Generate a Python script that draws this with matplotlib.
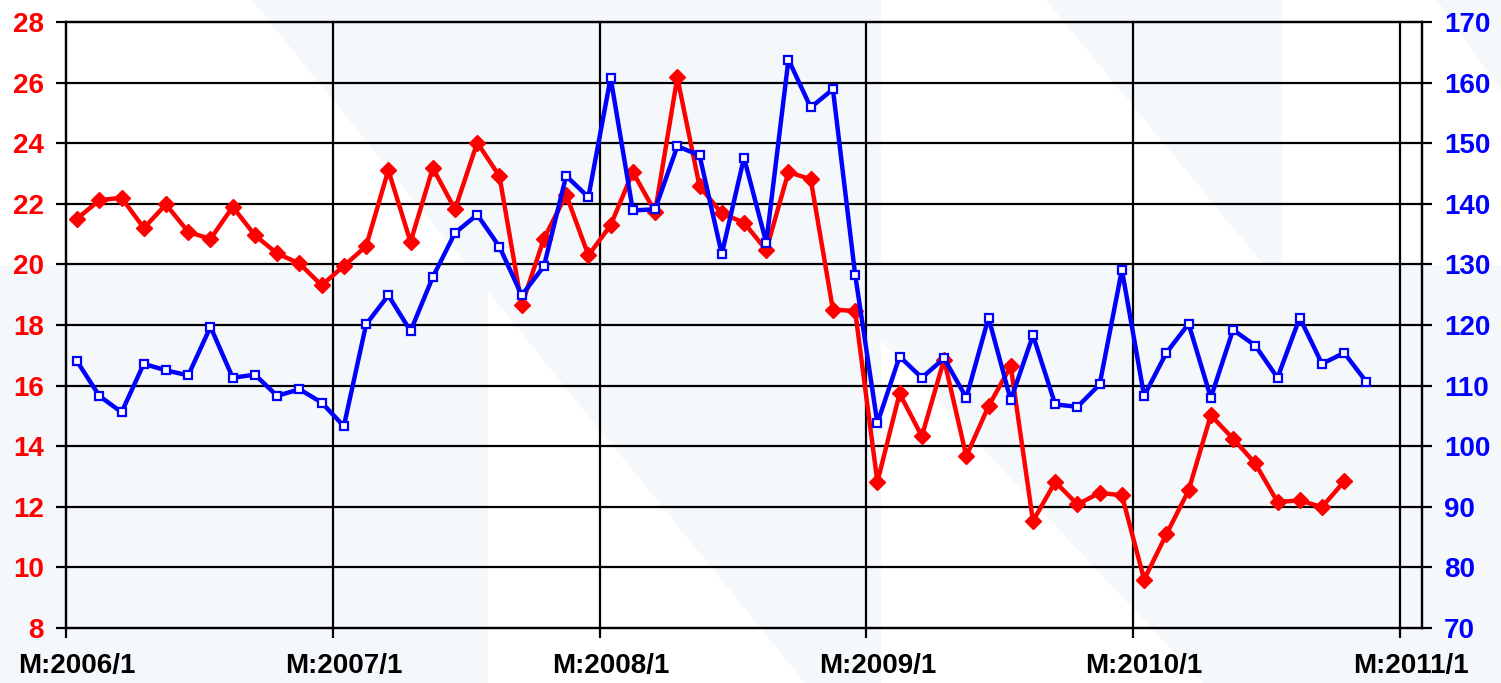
import numpy as np
import matplotlib
matplotlib.use("Agg")
import matplotlib.pyplot as plt

plt.rcParams['font.family'] = ['Liberation Sans', 'DejaVu Sans']
plt.rcParams['font.weight'] = 'bold'

# monthly series, starting M:2006/1
red_vals = [21.51, 22.12, 22.2, 21.2, 21.98, 21.07, 20.84, 21.9, 20.96, 20.36,
            20.03, 19.31, 19.95, 20.6, 23.11, 20.74, 23.18, 21.82, 24.02, 22.91,
            18.65, 20.85, 22.3, 20.3, 21.29, 23.05, 21.73, 26.17, 22.58, 21.68,
            21.38, 20.47, 23.05, 22.81, 18.51, 18.46, 12.82, 15.74, 14.33, 16.86,
            13.67, 15.32, 16.64, 11.53, 12.82, 12.08, 12.46, 12.38, 9.6, 11.09,
            12.54, 15.02, 14.25, 13.43, 12.16, 12.21, 11.99, 12.84]
blue_vals = [114.0, 108.3, 105.6, 113.6, 112.5, 111.7, 119.7, 111.3, 111.8, 108.3,
             109.4, 107.2, 103.3, 120.1, 124.9, 119.0, 127.9, 135.2, 138.2, 132.9,
             124.9, 129.7, 144.6, 141.1, 160.8, 138.9, 139.1, 149.5, 148.0, 131.7,
             147.6, 133.6, 163.8, 155.9, 158.9, 128.3, 103.8, 114.8, 111.3, 114.5,
             108.0, 121.2, 107.6, 118.3, 106.9, 106.5, 110.2, 129.1, 108.3, 115.4,
             120.2, 108.0, 119.2, 116.6, 111.3, 121.2, 113.6, 115.4, 110.6]
year_labels = ["M:2006/1", "M:2007/1", "M:2008/1", "M:2009/1", "M:2010/1", "M:2011/1"]
n_months = 61
left_ticks = np.arange(8, 29, 2)
right_ticks = np.arange(70, 171, 10)

W, H = 1501, 683
fig = plt.figure(figsize=(W / 100, H / 100), dpi=100)
fig.patch.set_facecolor('white')

# faint watermark in the background
bg = fig.add_axes([0, 0, 1, 1], zorder=-10)
bg.set_xlim(0, W)
bg.set_ylim(H, 0)
bg.axis('off')
light = '#f5f8fb'
shapes = [
    [(0, 265), (488, 265), (488, 683), (0, 683)],
    [(252, 0), (881, 0), (881, 683), (805, 683)],
    [(881, 265), (1501, 265), (1501, 683), (1203, 683), (881, 340)],
    [(1046, 0), (1282, 0), (1282, 265), (1264, 265)],
    [(1437, 0), (1501, 0), (1501, 90)],
]
for s in shapes:
    xs, ys = zip(*s)
    bg.fill(xs, ys, color=light, lw=0)

ax = fig.add_axes([66 / W, 1 - 628 / H, (1422 - 66) / W, (628 - 22) / H])
ax.set_facecolor('none')
ax2 = ax.twinx()

x_red = np.arange(len(red_vals)) + 0.5
x_blue = np.arange(len(blue_vals)) + 0.5

ax.plot(x_red, red_vals, color='#ff0000', lw=3.2, marker='D', ms=8.5,
        mfc='#ff0000', mec='#ff0000', mew=1, zorder=3)
ax2.plot(x_blue, blue_vals, color='#0000ff', lw=3.2, marker='s', ms=6,
         mfc='white', mec='#0000ff', mew=1.6, zorder=3)

ax.set_xlim(0, n_months)
ax.set_ylim(8, 28)
ax2.set_ylim(70, 170)

year_pos = np.arange(0, n_months, 12)
ax.set_xticks(year_pos)
ax.set_xticklabels([])
ax.set_xticks(year_pos + 0.5, minor=True)
ax.set_xticklabels(year_labels, minor=True)
ax.tick_params(axis='x', which='major', direction='out', length=7, width=1.6, color='black')
ax.tick_params(axis='x', which='minor', length=0, pad=18, labelsize=20, labelcolor='black')

ax.set_yticks(left_ticks)
ax.tick_params(axis='y', direction='out', length=7, width=1.6, pad=9,
               labelsize=20, labelcolor='#ff0000')
ax2.set_yticks(right_ticks)
ax2.tick_params(axis='y', direction='out', length=7, width=1.6, pad=9,
                labelsize=20, labelcolor='#0000ff')

for v in left_ticks[1:-1]:
    ax.axhline(v, color='black', lw=1.6, zorder=1)
for v in year_pos[1:]:
    ax.axvline(v, color='black', lw=1.6, zorder=1)

for a in (ax, ax2):
    for sp in a.spines.values():
        sp.set_linewidth(1.6)
        sp.set_color('black')

for lab in ax.get_xticklabels(minor=True) + ax.get_yticklabels() + ax2.get_yticklabels():
    lab.set_fontweight('bold')

fig.savefig('out.png', dpi=100)
